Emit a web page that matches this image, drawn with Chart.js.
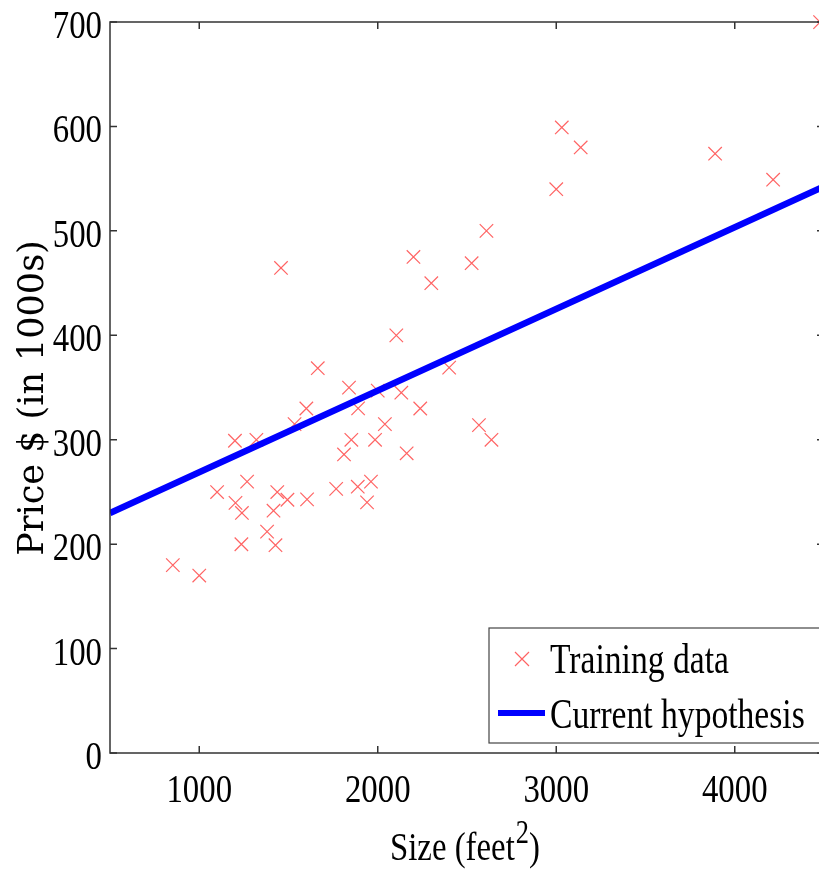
<!DOCTYPE html>
<html>
<head>
<meta charset="utf-8">
<script src="https://cdn.jsdelivr.net/npm/chart.js@4/dist/chart.umd.min.js"></script>
<style>
  html, body { margin: 0; padding: 0; background: #fff; overflow: hidden; }
  #wrap { width: 819px; height: 869px; overflow: hidden; position: relative; }
  #chart { position: absolute; left: 0; top: 0; }
</style>
</head>
<body>
<div id="wrap"><canvas id="chart" width="826" height="869"></canvas></div>
<script>
// house size in square feet and price in $1000s
const sizes = [2104, 1600, 2400, 1416, 3000, 1985, 1534, 1427, 1380, 1494, 1940, 2000,
  1890, 4478, 1268, 2300, 1320, 1236, 2609, 3031, 1767, 1888, 1604, 1962, 3890, 1100,
  1458, 2526, 2200, 2637, 1839, 1000, 2040, 3137, 1811, 1437, 1239, 2132, 4215, 2162,
  1664, 2238, 2567, 1200, 852, 1852, 1203];
const prices = [399.9, 329.9, 369.0, 232.0, 539.9, 299.9, 314.9, 199.0, 212.0, 242.5,
  240.0, 347.0, 330.0, 699.9, 259.9, 449.9, 299.9, 199.9, 500.0, 599.0, 252.9, 255.0,
  242.9, 259.9, 573.9, 249.9, 464.5, 469.0, 475.0, 299.9, 349.9, 169.9, 314.9, 579.9,
  285.9, 249.9, 229.9, 345.0, 549.0, 287.0, 368.5, 329.9, 314.0, 299.0, 179.9, 299.9,
  239.5];

// fitted line endpoints
const hypX = [500, 4500];
const hypY = [229.8, 542.6];

const xTicks = [1000, 2000, 3000, 4000];
const yTicks = [0, 100, 200, 300, 400, 500, 600, 700];

const RED = 'rgba(255, 60, 60, 0.8)';
const BLUE = '#0000ff';
const AXIS = '#333';

// draws text squeezed horizontally by sx
function squeezed(ctx, text, x, y, font, sx, align) {
  ctx.save();
  ctx.font = font;
  const w = ctx.measureText(text).width * sx;
  let left = x;
  if (align === 'center') left = x - w / 2;
  else if (align === 'right') left = x - w;
  ctx.translate(left, y);
  ctx.scale(sx, 1);
  ctx.textAlign = 'left';
  ctx.textBaseline = 'alphabetic';
  ctx.fillText(text, 0, 0);
  ctx.restore();
  return w;
}

const decor = {
  id: 'decor',
  afterDraw(chart) {
    const ctx = chart.ctx;
    const xs = chart.scales.x, ys = chart.scales.y;
    const a = chart.chartArea;
    const tickFont = '41px "Liberation Serif"';
    const sx = 0.8;

    ctx.save();
    ctx.fillStyle = '#000';
    ctx.strokeStyle = AXIS;
    ctx.lineWidth = 1.5;

    // frame (right side sits just past the visible edge)
    ctx.strokeRect(a.left, a.top, a.right - a.left, a.bottom - a.top);

    // inward ticks + labels
    ctx.beginPath();
    xTicks.forEach(v => {
      const px = xs.getPixelForValue(v);
      ctx.moveTo(px, a.bottom); ctx.lineTo(px, a.bottom - 7);
      ctx.moveTo(px, a.top); ctx.lineTo(px, a.top + 7);
    });
    yTicks.forEach(v => {
      const py = ys.getPixelForValue(v);
      ctx.moveTo(a.left, py); ctx.lineTo(a.left + 7, py);
      ctx.moveTo(a.right, py); ctx.lineTo(a.right - 7, py);
    });
    ctx.stroke();

    xTicks.forEach(v => {
      squeezed(ctx, String(v), xs.getPixelForValue(v), a.bottom + 49, tickFont, sx, 'center');
    });
    yTicks.forEach(v => {
      squeezed(ctx, String(v), a.left - 8, ys.getPixelForValue(v) + 16, tickFont, sx, 'right');
    });

    // x title with superscript
    let x = 390;
    x += squeezed(ctx, 'Size (feet', x, 860, '41px "Liberation Serif"', 0.8, 'left');
    x += squeezed(ctx, '2', x + 1, 843, '33px "Liberation Serif"', 0.8, 'left') + 1;
    squeezed(ctx, ')', x, 860, '41px "Liberation Serif"', 0.8, 'left');

    // y title
    ctx.save();
    ctx.translate(43, 398);
    ctx.rotate(-Math.PI / 2);
    squeezed(ctx, 'Price $ (in 1000s)', 0, 0, '35px "DejaVu Serif"', 1.0, 'center');
    ctx.restore();

    // legend
    const lx = 489, ly = 628, lw = 340, lh = 115;
    ctx.fillStyle = '#fff';
    ctx.fillRect(lx, ly, lw, lh);
    ctx.strokeStyle = '#444';
    ctx.lineWidth = 1.2;
    ctx.strokeRect(lx, ly, lw, lh);

    ctx.strokeStyle = RED;
    ctx.lineWidth = 1.2;
    ctx.beginPath();
    ctx.moveTo(515, 652); ctx.lineTo(529, 666);
    ctx.moveTo(529, 652); ctx.lineTo(515, 666);
    ctx.stroke();

    ctx.strokeStyle = BLUE;
    ctx.lineWidth = 6;
    ctx.beginPath();
    ctx.moveTo(498, 713); ctx.lineTo(545, 713);
    ctx.stroke();

    ctx.fillStyle = '#000';
    squeezed(ctx, 'Training data', 550, 673, '42px "Liberation Serif"', 0.8, 'left');
    squeezed(ctx, 'Current hypothesis', 550, 728, '42px "Liberation Serif"', 0.8, 'left');
    ctx.restore();
  }
};

new Chart(document.getElementById('chart'), {
  data: {
    datasets: [
      {
        type: 'scatter',
        label: 'Training data',
        data: sizes.map((s, i) => ({ x: s, y: prices[i] })),
        pointStyle: 'crossRot',
        pointRadius: 9.5,
        borderColor: RED,
        borderWidth: 1.2,
        clip: false,
        order: 2
      },
      {
        type: 'line',
        label: 'Current hypothesis',
        data: hypX.map((v, i) => ({ x: v, y: hypY[i] })),
        borderColor: BLUE,
        borderWidth: 6.5,
        pointRadius: 0,
        order: 1
      }
    ]
  },
  options: {
    responsive: false,
    animation: false,
    events: [],
    layout: { autoPadding: false, padding: { left: 110, top: 22, right: 2, bottom: 116 } },
    scales: {
      x: { type: 'linear', min: 500, max: 4500, display: false },
      y: { type: 'linear', min: 0, max: 700, display: false }
    },
    plugins: { legend: { display: false }, tooltip: { enabled: false } }
  },
  plugins: [decor]
});
</script>
</body>
</html>
